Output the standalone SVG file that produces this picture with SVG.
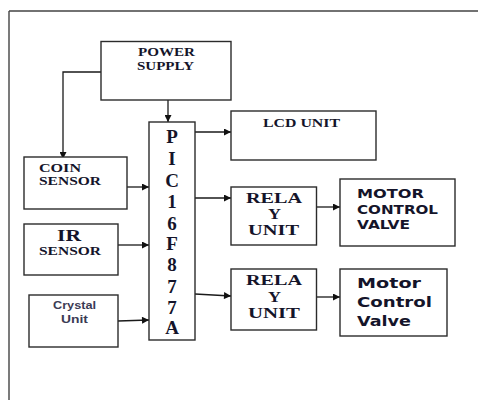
<svg xmlns="http://www.w3.org/2000/svg" width="478" height="401" viewBox="0 0 478 401">
<style>
.box{fill:#fff;stroke:#2b2b2b;stroke-width:1.4}
.ln{fill:none;stroke:#1a1a1a;stroke-width:1.3}
.sf{font-family:"Liberation Serif","Times New Roman",serif;font-weight:bold;fill:#14142a}
.ss{font-family:"DejaVu Sans","Liberation Sans",sans-serif;font-weight:bold;fill:#14142a}
.pic{font-family:"Liberation Serif","Times New Roman",serif;font-weight:bold;font-size:19px;fill:#14142a;text-anchor:middle}
</style>
<defs>
<marker id="ah" viewBox="0 0 10 10" refX="10" refY="5" markerWidth="8" markerHeight="7" markerUnits="userSpaceOnUse" orient="auto">
<path d="M0,0 L10,5 L0,10 z" fill="#111"/>
</marker>
</defs>
<rect width="478" height="401" fill="#fff"/>
<path d="M9,11 H478 M9,11 V400" fill="none" stroke="#444" stroke-width="1.4"/>

<g id="connectors">
<path class="ln" d="M117,72 H63 V159" marker-end="url(#ah)"/>
<path class="ln" d="M168,100 V122" marker-end="url(#ah)"/>
<path class="ln" d="M195,132 H231" marker-end="url(#ah)"/>
<path class="ln" d="M195,198 H231" marker-end="url(#ah)"/>
<path class="ln" d="M195,294 L231,296" marker-end="url(#ah)"/>
<path class="ln" d="M316,207 H340" marker-end="url(#ah)"/>
<path class="ln" d="M316,297 H340" marker-end="url(#ah)"/>
<path class="ln" d="M127,187 H149" marker-end="url(#ah)"/>
<path class="ln" d="M117,245 H149" marker-end="url(#ah)"/>
<path class="ln" d="M118,321 L149,320" marker-end="url(#ah)"/>
</g>

<g id="power">
<rect class="box" x="101" y="41.5" width="130" height="58.5"/>
<text class="sf" x="138" y="56" font-size="12" textLength="57" lengthAdjust="spacingAndGlyphs">POWER</text>
<text class="sf" x="137" y="70" font-size="12" textLength="57" lengthAdjust="spacingAndGlyphs">SUPPLY</text>
</g>

<g id="pic">
<rect class="box" x="149" y="122" width="46" height="218"/>
<text class="pic" x="172" y="143">P</text>
<text class="pic" x="172" y="165">I</text>
<text class="pic" x="172" y="187">C</text>
<text class="pic" x="172" y="208">1</text>
<text class="pic" x="172" y="230">6</text>
<text class="pic" x="172" y="250">F</text>
<text class="pic" x="172" y="271">8</text>
<text class="pic" x="172" y="293">7</text>
<text class="pic" x="172" y="314">7</text>
<text class="pic" x="172" y="334">A</text>
</g>

<g id="lcd">
<rect class="box" x="231" y="111" width="145" height="49"/>
<text class="sf" x="263" y="127" font-size="12" textLength="77" lengthAdjust="spacingAndGlyphs">LCD UNIT</text>
</g>

<g id="relay1">
<rect class="box" x="231" y="187" width="85.5" height="58"/>
<text class="sf" x="246" y="203" font-size="15" textLength="56" lengthAdjust="spacingAndGlyphs">RELA</text>
<text class="sf" x="268" y="219" font-size="15" textLength="13" lengthAdjust="spacingAndGlyphs">Y</text>
<text class="sf" x="248" y="235" font-size="15" textLength="51" lengthAdjust="spacingAndGlyphs">UNIT</text>
</g>

<g id="motor1">
<rect class="box" x="340" y="179" width="115" height="67"/>
<text class="ss" x="357" y="198" font-size="12.5" textLength="67" lengthAdjust="spacingAndGlyphs">MOTOR</text>
<text class="ss" x="357" y="214" font-size="12.5" textLength="81" lengthAdjust="spacingAndGlyphs">CONTROL</text>
<text class="ss" x="357" y="229" font-size="12.5" textLength="53" lengthAdjust="spacingAndGlyphs">VALVE</text>
</g>

<g id="relay2">
<rect class="box" x="231" y="269" width="85.5" height="61"/>
<text class="sf" x="246" y="285" font-size="15" textLength="56" lengthAdjust="spacingAndGlyphs">RELA</text>
<text class="sf" x="268" y="302" font-size="15" textLength="13" lengthAdjust="spacingAndGlyphs">Y</text>
<text class="sf" x="248" y="318" font-size="15" textLength="52" lengthAdjust="spacingAndGlyphs">UNIT</text>
</g>

<g id="motor2">
<rect class="box" x="340" y="269" width="107" height="67"/>
<text class="ss" x="357" y="288" font-size="14.5" textLength="64" lengthAdjust="spacingAndGlyphs">Motor</text>
<text class="ss" x="357" y="307" font-size="14.5" textLength="75" lengthAdjust="spacingAndGlyphs">Control</text>
<text class="ss" x="357" y="326" font-size="14.5" textLength="54" lengthAdjust="spacingAndGlyphs">Valve</text>
</g>

<g id="coin">
<rect class="box" x="24" y="157" width="103" height="52"/>
<text class="sf" x="39" y="172" font-size="12" textLength="42" lengthAdjust="spacingAndGlyphs">COIN</text>
<text class="sf" x="39" y="185" font-size="12" textLength="62" lengthAdjust="spacingAndGlyphs">SENSOR</text>
</g>

<g id="ir">
<rect class="box" x="24" y="224" width="94" height="51"/>
<text class="sf" x="57" y="241" font-size="16" textLength="24" lengthAdjust="spacingAndGlyphs">IR</text>
<text class="sf" x="39" y="255" font-size="12" textLength="62" lengthAdjust="spacingAndGlyphs">SENSOR</text>
</g>

<g id="crystal">
<rect class="box" x="29" y="295" width="89" height="52"/>
<text x="53" y="309" font-family="'Liberation Sans',Arial,sans-serif" font-weight="bold" font-size="10" fill="#3b3b55" textLength="43" lengthAdjust="spacingAndGlyphs">Crystal</text>
<text x="61" y="323" font-family="'Liberation Sans',Arial,sans-serif" font-weight="bold" font-size="10" fill="#3b3b55" textLength="27" lengthAdjust="spacingAndGlyphs">Unit</text>
</g>
</svg>
